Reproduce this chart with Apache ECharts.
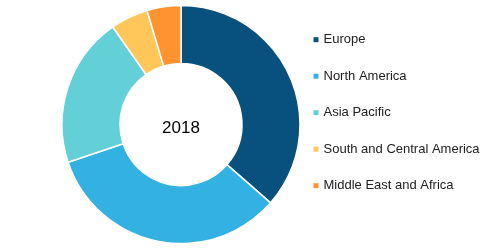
<!DOCTYPE html>
<html>
<head>
<meta charset="utf-8">
<script src="https://cdn.jsdelivr.net/npm/echarts@6/dist/echarts.min.js"></script>
<style>html,body{margin:0;padding:0;background:#fff;}#c{width:500px;height:250px;}</style>
</head>
<body>
<div id="c"></div>
<script>
const categories = ["Europe", "North America", "Asia Pacific", "South and Central America", "Middle East and Africa"];
const values = [36.4, 33.4, 20.4, 5.1, 4.6];
const colors = ["#08517E", "#33B1E3", "#63CFD6", "#FFC75A", "#FF9330"];
const centerLabel = "2018";

const chart = echarts.init(document.getElementById('c'), null, {renderer: 'canvas'});
chart.setOption({
  animation: false,
  color: colors,
  legend: {
    orient: 'vertical',
    left: 313.5,
    top: 32.7,
    padding: 0,
    itemWidth: 5,
    itemHeight: 5,
    itemGap: 22.5,
    icon: 'rect',
    itemStyle: {borderWidth: 0},
    selectedMode: false,
    textStyle: {fontFamily: 'Liberation Sans, Arial, sans-serif', fontSize: 13, color: '#222', lineHeight: 14},
    data: categories
  },
  graphic: [{
    type: 'text',
    x: 181,
    y: 128.5,
    silent: true,
    style: {
      text: centerLabel,
      align: 'center',
      verticalAlign: 'middle',
      font: '17px "Liberation Sans", Arial, sans-serif',
      fill: '#000'
    }
  }],
  series: [{
    type: 'pie',
    center: [181, 124.5],
    radius: [61, 119],
    startAngle: 90,
    clockwise: true,
    label: {show: false},
    labelLine: {show: false},
    emphasis: {disabled: true},
    silent: true,
    itemStyle: {borderColor: '#fff', borderWidth: 1.5},
    data: categories.map((n, i) => ({name: n, value: values[i]}))
  }]
});
</script>
</body>
</html>
